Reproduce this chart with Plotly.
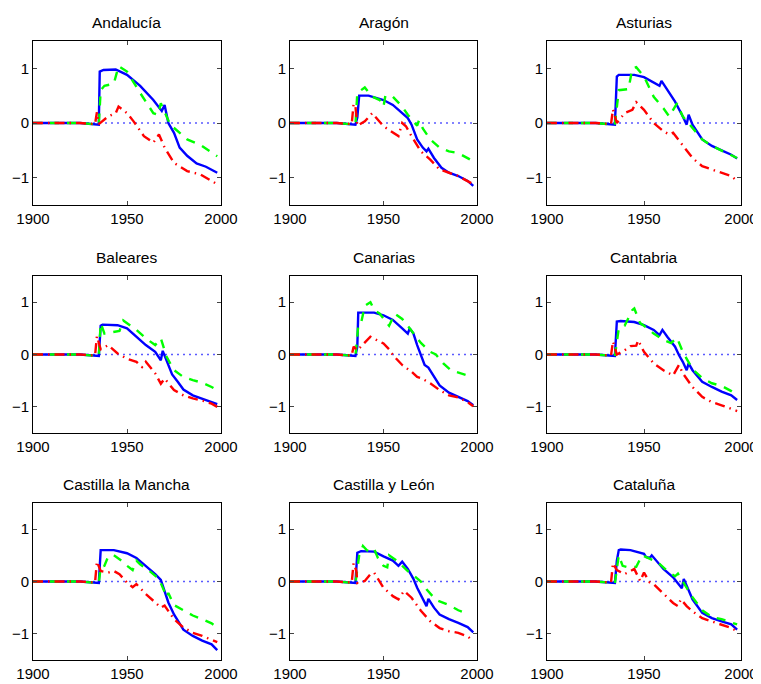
import plotly.graph_objects as go

regions = ["Andalucía", "Aragón", "Asturias", "Baleares", "Canarias", "Cantabria",
           "Castilla la Mancha", "Castilla y León", "Cataluña"]

x_ticks = [1900, 1950, 2000]
y_ticks = [-1, 0, 1]
zero_years = [1900, 1998]
zero_vals = [0, 0]

andalucia_blue = [(1900,0),(1925,0),(1935,-0.03),(1935.5,0.94),(1937.5,0.97),(1944,0.98),(1950,0.88),(1957,0.68),(1964,0.42),(1967,0.29),(1968.5,0.22),(1970,0.33),(1972,0.0),(1975,-0.18),(1978,-0.45),(1982,-0.6),(1987,-0.74),(1992,-0.8),(1998,-0.91)]
andalucia_green = [(1900,0),(1925,0),(1935,-0.03),(1936,0.6),(1938,0.68),(1943,0.72),(1945.5,1.04),(1950,0.94),(1957,0.55),(1964,0.18),(1966.5,0.15),(1968,0.36),(1973,-0.03),(1982,-0.3),(1989,-0.4),(1998,-0.61)]
andalucia_red = [(1900,0),(1925,0),(1933,-0.02),(1934,0.2),(1935,-0.02),(1940,0.12),(1944,0.18),(1945.5,0.3),(1950,0.18),(1953.5,0.03),(1959,-0.24),(1964,-0.36),(1967,-0.21),(1970,-0.45),(1975,-0.73),(1982,-0.88),(1989,-0.94),(1998,-1.12)]

aragon_blue = [(1900,0),(1925,0),(1935,-0.03),(1936,0.1),(1937,0.5),(1942,0.5),(1950,0.42),(1955,0.33),(1960,0.18),(1963,0.09),(1965,-0.03),(1968,-0.3),(1971,-0.45),(1973,-0.52),(1974,-0.47),(1977,-0.64),(1981,-0.82),(1985,-0.91),(1990,-0.97),(1995,-1.06),(1998,-1.15)]
aragon_green = [(1900,0),(1925,0),(1935,-0.03),(1936,0.55),(1940,0.65),(1944,0.48),(1948,0.42),(1950,0.3),(1951,0.5),(1955,0.48),(1960,0.3),(1963,0.15),(1966,0.03),(1968,-0.05),(1969,0.05),(1971,-0.1),(1975,-0.3),(1980,-0.45),(1985,-0.52),(1990,-0.55),(1998,-0.7)]
aragon_red = [(1900,0),(1925,0),(1933,-0.02),(1934,0.35),(1935,0.3),(1936,-0.05),(1940,0.03),(1944,0.18),(1950,-0.06),(1955,-0.18),(1958,-0.24),(1960,0.0),(1962,-0.06),(1965,-0.24),(1970,-0.52),(1975,-0.67),(1980,-0.85),(1985,-0.91),(1990,-0.97),(1998,-1.12)]

asturias_blue = [(1900,0),(1925,0),(1935,-0.03),(1936,0.85),(1937,0.88),(1945,0.88),(1950,0.84),(1955,0.73),(1958,0.68),(1959,0.77),(1962,0.6),(1966,0.39),(1970,0.12),(1972,-0.03),(1973,0.15),(1975,-0.03),(1980,-0.3),(1985,-0.42),(1990,-0.5),(1995,-0.58),(1998,-0.65)]
asturias_green = [(1900,0),(1925,0),(1935,-0.03),(1937,0.6),(1942,0.62),(1944,1.0),(1946,1.02),(1950,0.85),(1955,0.48),(1960,0.27),(1963,0.12),(1967,0.36),(1970,0.12),(1975,-0.09),(1980,-0.3),(1985,-0.42),(1990,-0.5),(1998,-0.64)]
asturias_red = [(1900,0),(1925,0),(1933,-0.02),(1934,0.25),(1936,0.0),(1940,0.18),(1944,0.24),(1946,0.38),(1950,0.24),(1955,0.0),(1960,-0.15),(1963,-0.21),(1965,-0.18),(1970,-0.42),(1975,-0.64),(1980,-0.79),(1985,-0.85),(1990,-0.91),(1995,-0.97),(1998,-1.06)]

baleares_blue = [(1900,0),(1925,0),(1935,-0.03),(1936,0.55),(1937,0.57),(1945,0.56),(1950,0.5),(1955,0.34),(1960,0.18),(1965,0.05),(1968,-0.11),(1969,0.07),(1971,-0.11),(1974,-0.38),(1977,-0.52),(1980,-0.67),(1985,-0.78),(1990,-0.84),(1995,-0.91),(1998,-0.95)]
baleares_green = [(1900,0),(1925,0),(1935,-0.03),(1936,0.6),(1938,0.4),(1942,0.42),(1946,0.45),(1948,0.65),(1950,0.6),(1955,0.47),(1960,0.31),(1965,0.18),(1968,0.31),(1971,-0.04),(1975,-0.3),(1980,-0.43),(1985,-0.49),(1990,-0.54),(1995,-0.62),(1998,-0.68)]
baleares_red = [(1900,0),(1925,0),(1933,-0.02),(1934,0.35),(1936,0.1),(1940,0.18),(1945,0.02),(1950,-0.08),(1955,-0.14),(1958,-0.24),(1960,-0.14),(1965,-0.36),(1968,-0.56),(1970,-0.46),(1975,-0.68),(1980,-0.78),(1985,-0.84),(1990,-0.88),(1995,-0.94),(1998,-1.0)]

canarias_blue = [(1900,0),(1925,0),(1935,-0.03),(1936,0.15),(1936.5,0.8),(1945,0.8),(1950,0.75),(1955,0.66),(1960,0.5),(1963,0.4),(1964,0.5),(1966,0.4),(1968,0.18),(1970,-0.01),(1972,-0.2),(1974,-0.25),(1977,-0.43),(1980,-0.59),(1985,-0.73),(1990,-0.81),(1995,-0.89),(1998,-0.97)]
canarias_green = [(1900,0),(1925,0),(1935,-0.03),(1936.5,0.55),(1938,0.6),(1940,0.93),(1943,1.0),(1945,0.85),(1948,0.78),(1953,0.55),(1956,0.78),(1960,0.68),(1964,0.5),(1966,0.4),(1970,0.22),(1975,0.05),(1978,0.0),(1982,-0.17),(1986,-0.3),(1995,-0.4)]
canarias_red = [(1900,0),(1925,0),(1933,-0.02),(1934,0.15),(1936,0.08),(1940,0.24),(1943,0.34),(1945,0.3),(1950,0.21),(1953,0.1),(1955,-0.01),(1960,-0.2),(1965,-0.33),(1968,-0.43),(1970,-0.45),(1975,-0.55),(1980,-0.68),(1985,-0.78),(1990,-0.82),(1995,-0.91),(1998,-0.99)]

cantabria_blue = [(1900,0),(1925,0),(1935,-0.03),(1936,0.63),(1938,0.64),(1945,0.62),(1950,0.56),(1955,0.47),(1958,0.37),(1959.5,0.47),(1962,0.34),(1966,0.15),(1968,-0.01),(1970,-0.14),(1972,-0.3),(1973,-0.17),(1975,-0.3),(1980,-0.52),(1985,-0.62),(1990,-0.71),(1995,-0.78),(1998,-0.87)]
cantabria_green = [(1900,0),(1925,0),(1935,-0.03),(1937,0.5),(1940,0.55),(1944,0.85),(1945,0.88),(1948,0.6),(1950,0.55),(1955,0.4),(1960,0.28),(1964,0.22),(1967,0.32),(1970,0.05),(1975,-0.28),(1980,-0.45),(1985,-0.55),(1990,-0.6),(1995,-0.7),(1998,-0.78)]
cantabria_red = [(1900,0),(1925,0),(1933,-0.02),(1934,0.25),(1936,0.0),(1940,0.08),(1943,0.16),(1946,0.17),(1947,0.27),(1950,0.05),(1955,-0.17),(1960,-0.3),(1965,-0.4),(1968,-0.2),(1970,-0.36),(1975,-0.62),(1980,-0.81),(1985,-0.91),(1990,-0.97),(1995,-1.03),(1998,-1.08)]

clm_blue = [(1900,0),(1925,0),(1935,-0.03),(1936,0.6),(1943,0.6),(1950,0.54),(1955,0.45),(1960,0.3),(1965,0.14),(1968,0.03),(1970,-0.18),(1972,-0.4),(1975,-0.63),(1978,-0.82),(1980,-0.92),(1985,-1.04),(1990,-1.13),(1995,-1.2),(1998,-1.31)]
clm_green = [(1900,0),(1925,0),(1935,-0.03),(1936,0.28),(1938,0.3),(1940,0.48),(1943,0.5),(1947,0.4),(1950,0.3),(1953,0.22),(1955,0.4),(1957,0.33),(1962,0.2),(1967,0.05),(1970,-0.2),(1971,-0.3),(1972,-0.22),(1975,-0.45),(1980,-0.55),(1985,-0.65),(1990,-0.72),(1995,-0.8),(1998,-0.88)]
clm_red = [(1900,0),(1925,0),(1933,-0.02),(1934,0.38),(1936,0.2),(1940,0.17),(1943,0.2),(1946,0.14),(1950,-0.02),(1953,-0.11),(1955,-0.05),(1960,-0.24),(1965,-0.4),(1968,-0.5),(1970,-0.46),(1975,-0.72),(1980,-0.88),(1985,-0.98),(1990,-1.04),(1995,-1.11),(1998,-1.16)]

cyl_blue = [(1900,0),(1925,0),(1935,-0.03),(1936,0.55),(1938,0.58),(1945,0.57),(1950,0.48),(1955,0.4),(1958,0.3),(1960,0.38),(1963,0.24),(1966,0.05),(1968,-0.12),(1971,-0.34),(1973,-0.47),(1974,-0.33),(1977,-0.5),(1980,-0.63),(1985,-0.72),(1990,-0.79),(1995,-0.87),(1998,-0.97)]
cyl_green = [(1900,0),(1925,0),(1935,-0.03),(1936,0.3),(1937,0.5),(1939,0.68),(1941,0.6),(1943,0.57),(1945,0.62),(1947,0.45),(1950,0.3),(1952,0.27),(1953,0.5),(1957,0.4),(1960,0.3),(1963,0.2),(1966,0.12),(1970,0.0),(1973,-0.15),(1978,-0.35),(1985,-0.45),(1990,-0.55),(1995,-0.62)]
cyl_red = [(1900,0),(1925,0),(1933,-0.02),(1934,0.35),(1935.5,0.2),(1936,-0.03),(1940,0.01),(1943,0.14),(1945,0.17),(1950,-0.12),(1955,-0.28),(1958,-0.34),(1961,-0.18),(1965,-0.31),(1970,-0.56),(1975,-0.76),(1980,-0.89),(1985,-0.95),(1990,-0.98),(1995,-1.05),(1998,-1.14)]

cataluna_blue = [(1900,0),(1925,0),(1935,-0.03),(1936,0.4),(1937,0.6),(1938,0.61),(1943,0.6),(1950,0.53),(1951,0.47),(1953,0.45),(1954,0.5),(1957,0.37),(1960,0.24),(1965,0.08),(1968,-0.05),(1969.5,-0.13),(1970.5,0.05),(1973,-0.15),(1975,-0.34),(1980,-0.6),(1985,-0.7),(1990,-0.76),(1995,-0.82),(1998,-0.92)]
cataluna_green = [(1900,0),(1925,0),(1935,-0.03),(1937,0.5),(1939,0.3),(1942,0.27),(1946,0.28),(1949,0.5),(1952,0.45),(1957,0.37),(1962,0.2),(1966,0.1),(1967.5,0.15),(1970,0.0),(1975,-0.3),(1980,-0.55),(1985,-0.68),(1990,-0.72),(1995,-0.78),(1998,-0.82)]
cataluna_red = [(1900,0),(1925,0),(1933,-0.02),(1934,0.35),(1936,0.22),(1940,0.14),(1945,0.24),(1948,0.01),(1950,0.17),(1953,-0.02),(1955,-0.05),(1960,-0.24),(1965,-0.41),(1967.5,-0.47),(1969,-0.34),(1972,-0.47),(1975,-0.57),(1980,-0.7),(1985,-0.76),(1990,-0.82),(1995,-0.89),(1998,-0.95)]

series = [
    (andalucia_blue, andalucia_green, andalucia_red),
    (aragon_blue, aragon_green, aragon_red),
    (asturias_blue, asturias_green, asturias_red),
    (baleares_blue, baleares_green, baleares_red),
    (canarias_blue, canarias_green, canarias_red),
    (cantabria_blue, cantabria_green, cantabria_red),
    (clm_blue, clm_green, clm_red),
    (cyl_blue, cyl_green, cyl_red),
    (cataluna_blue, cataluna_green, cataluna_red),
]

# page body has an 8px margin; positions are shifted so the plot lands where the reference has it
OFF = 8
W, H = 761, 684
col_px = [(33, 221), (290, 477), (547, 741)]
row_px = [(41, 205), (276, 433), (503, 660)]
title_y_px = [23, 257, 484]

fig = go.Figure()
layout = dict(width=W, height=H, margin=dict(l=0, r=0, t=0, b=0, autoexpand=False),
              paper_bgcolor="white", plot_bgcolor="white", showlegend=False,
              font=dict(family="Liberation Sans, Arial, sans-serif", size=15, color="black"))
annotations = []

for i, name in enumerate(regions):
    r, c = divmod(i, 3)
    k = "" if i == 0 else str(i + 1)
    xa, ya = "x" + k, "y" + k
    x0, x1 = (v - OFF for v in col_px[c])
    t0, t1 = (v - OFF for v in row_px[r])
    layout["xaxis" + k] = dict(domain=[x0 / W, x1 / W], range=[1900, 2000], anchor=ya,
                               tickvals=x_ticks, ticks="inside", ticklen=4, showline=True,
                               mirror="ticks", linecolor="black", linewidth=1, showgrid=False,
                               zeroline=False, automargin=False, tickfont=dict(size=15))
    layout["yaxis" + k] = dict(domain=[1 - t1 / H, 1 - t0 / H], range=[-1.5, 1.5], anchor=xa,
                               tickvals=y_ticks, ticks="inside", ticklen=4, showline=True,
                               mirror="ticks", linecolor="black", linewidth=1, showgrid=False,
                               zeroline=False, automargin=False, tickfont=dict(size=15))
    annotations.append(dict(text=name, x=(x0 + x1) / 2 / W, y=1 - (title_y_px[r] - OFF) / H,
                            xref="paper", yref="paper", showarrow=False,
                            xanchor="center", yanchor="middle", font=dict(size=15.5)))
    blue, green, red = series[i]
    fig.add_trace(go.Scatter(x=zero_years, y=zero_vals, mode="lines", xaxis=xa, yaxis=ya,
                             line=dict(color="#5a5aff", width=1.3, dash="2px,4px")))
    fig.add_trace(go.Scatter(x=[p[0] for p in blue], y=[p[1] for p in blue], mode="lines",
                             xaxis=xa, yaxis=ya, line=dict(color="#0000ff", width=2.4)))
    fig.add_trace(go.Scatter(x=[p[0] for p in green], y=[p[1] for p in green], mode="lines",
                             xaxis=xa, yaxis=ya, line=dict(color="#00ff00", width=2.4, dash="9px,8px")))
    fig.add_trace(go.Scatter(x=[p[0] for p in red], y=[p[1] for p in red], mode="lines",
                             xaxis=xa, yaxis=ya, line=dict(color="#ff0000", width=2.4, dash="10px,5px,1.5px,5px")))

layout["annotations"] = annotations
fig.update_layout(**layout)
fig.write_html("out.html")
